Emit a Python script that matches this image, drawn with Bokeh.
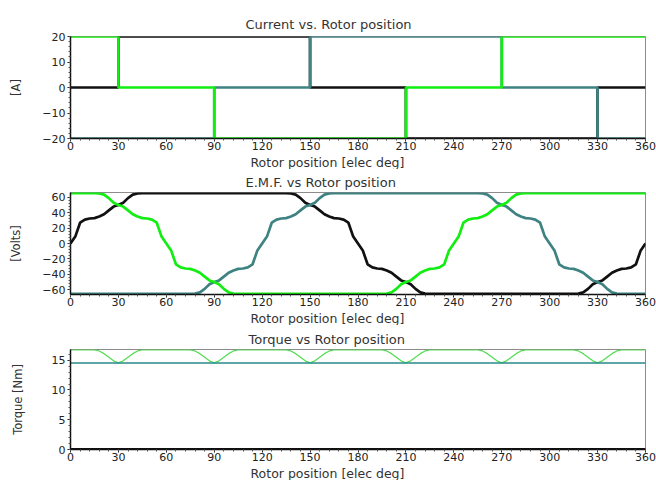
from bokeh.plotting import figure
from bokeh.layouts import column
from bokeh.models import Range1d, Title, FixedTicker
from bokeh.embed import file_html
from bokeh.resources import INLINE

# ---------------- data ----------------
angle_ticks = [0, 30, 60, 90, 120, 150, 180, 210, 240, 270, 300, 330, 360]

# phase currents (value held from each edge to the next)
cur_edges = [0, 30, 90, 150, 210, 270, 330, 360]
cur_black = [0, 20, 20, 0, -20, -20, 0, 0]
cur_green = [20, 0, -20, -20, 0, 20, 20, 20]
cur_teal = [-20, -20, 0, 20, 20, 0, -20, -20]

# back EMF sampled every 3 electrical degrees (0..360)
emf_theta = list(range(0, 361, 3))
emf_black = [
    0, 9, 27, 31, 32.5, 33, 35, 38, 43, 48,
    50, 53, 59, 63.5, 65, 65.5, 65.5, 65.5, 65.5, 65.5,
    65.5, 65.5, 65.5, 65.5, 65.5, 65.5, 65.5, 65.5, 65.5, 65.5,
    65.5, 65.5, 65.5, 65.5, 65.5, 65.5, 65.5, 65.5, 65.5, 65.5,
    65.5, 65.5, 65.5, 65.5, 65.5, 65.5, 65, 63.5, 59, 53,
    50, 48, 43, 38, 35, 33, 32.5, 31, 27, 9,
    0, -9, -27, -31, -32.5, -33, -35, -38, -43, -48,
    -50, -53, -59, -63.5, -65, -65.5, -65.5, -65.5, -65.5, -65.5,
    -65.5, -65.5, -65.5, -65.5, -65.5, -65.5, -65.5, -65.5, -65.5, -65.5,
    -65.5, -65.5, -65.5, -65.5, -65.5, -65.5, -65.5, -65.5, -65.5, -65.5,
    -65.5, -65.5, -65.5, -65.5, -65.5, -65.5, -65, -63.5, -59, -53,
    -50, -48, -43, -38, -35, -33, -32.5, -31, -27, -9,
    0,
]
emf_green = [
    65.5, 65.5, 65.5, 65.5, 65.5, 65.5, 65, 63.5, 59, 53,
    50, 48, 43, 38, 35, 33, 32.5, 31, 27, 9,
    0, -9, -27, -31, -32.5, -33, -35, -38, -43, -48,
    -50, -53, -59, -63.5, -65, -65.5, -65.5, -65.5, -65.5, -65.5,
    -65.5, -65.5, -65.5, -65.5, -65.5, -65.5, -65.5, -65.5, -65.5, -65.5,
    -65.5, -65.5, -65.5, -65.5, -65.5, -65.5, -65.5, -65.5, -65.5, -65.5,
    -65.5, -65.5, -65.5, -65.5, -65.5, -65.5, -65, -63.5, -59, -53,
    -50, -48, -43, -38, -35, -33, -32.5, -31, -27, -9,
    0, 9, 27, 31, 32.5, 33, 35, 38, 43, 48,
    50, 53, 59, 63.5, 65, 65.5, 65.5, 65.5, 65.5, 65.5,
    65.5, 65.5, 65.5, 65.5, 65.5, 65.5, 65.5, 65.5, 65.5, 65.5,
    65.5, 65.5, 65.5, 65.5, 65.5, 65.5, 65.5, 65.5, 65.5, 65.5,
    65.5,
]
emf_teal = [
    -65.5, -65.5, -65.5, -65.5, -65.5, -65.5, -65.5, -65.5, -65.5, -65.5,
    -65.5, -65.5, -65.5, -65.5, -65.5, -65.5, -65.5, -65.5, -65.5, -65.5,
    -65.5, -65.5, -65.5, -65.5, -65.5, -65.5, -65, -63.5, -59, -53,
    -50, -48, -43, -38, -35, -33, -32.5, -31, -27, -9,
    0, 9, 27, 31, 32.5, 33, 35, 38, 43, 48,
    50, 53, 59, 63.5, 65, 65.5, 65.5, 65.5, 65.5, 65.5,
    65.5, 65.5, 65.5, 65.5, 65.5, 65.5, 65.5, 65.5, 65.5, 65.5,
    65.5, 65.5, 65.5, 65.5, 65.5, 65.5, 65.5, 65.5, 65.5, 65.5,
    65.5, 65.5, 65.5, 65.5, 65.5, 65.5, 65, 63.5, 59, 53,
    50, 48, 43, 38, 35, 33, 32.5, 31, 27, 9,
    0, -9, -27, -31, -32.5, -33, -35, -38, -43, -48,
    -50, -53, -59, -63.5, -65, -65.5, -65.5, -65.5, -65.5, -65.5,
    -65.5,
]

# torque sampled every 3 electrical degrees (0..360)
torque_theta = list(range(0, 361, 3))
torque_total = [
    16.75, 16.75, 16.75, 16.75, 16.75, 16.75, 16.55, 16.1, 15.5, 14.9,
    14.55, 14.9, 15.5, 16.1, 16.55, 16.75, 16.75, 16.75, 16.75, 16.75,
    16.75, 16.75, 16.75, 16.75, 16.75, 16.75, 16.55, 16.1, 15.5, 14.9,
    14.55, 14.9, 15.5, 16.1, 16.55, 16.75, 16.75, 16.75, 16.75, 16.75,
    16.75, 16.75, 16.75, 16.75, 16.75, 16.75, 16.55, 16.1, 15.5, 14.9,
    14.55, 14.9, 15.5, 16.1, 16.55, 16.75, 16.75, 16.75, 16.75, 16.75,
    16.75, 16.75, 16.75, 16.75, 16.75, 16.75, 16.55, 16.1, 15.5, 14.9,
    14.55, 14.9, 15.5, 16.1, 16.55, 16.75, 16.75, 16.75, 16.75, 16.75,
    16.75, 16.75, 16.75, 16.75, 16.75, 16.75, 16.55, 16.1, 15.5, 14.9,
    14.55, 14.9, 15.5, 16.1, 16.55, 16.75, 16.75, 16.75, 16.75, 16.75,
    16.75, 16.75, 16.75, 16.75, 16.75, 16.75, 16.55, 16.1, 15.5, 14.9,
    14.55, 14.9, 15.5, 16.1, 16.55, 16.75, 16.75, 16.75, 16.75, 16.75,
    16.75,
]
torque_avg_theta = [0, 360]
torque_avg = [14.55, 14.55]
torque_cog_theta = [0, 360]
torque_cog = [0.1, 0.1]

# ---------------- styling ----------------
FONT = "DejaVu Sans"
GREEN = "#12ee12"
TEAL = "#3f8282"
BLACK = "#111111"


def make_fig(height, border_top, border_bottom, y_range, y_ticks, title, title_offset,
             title_standoff, ylabel, label_standoff):
    p = figure(width=656, height=height, output_backend="svg", toolbar_location=None,
               x_range=Range1d(0, 360), y_range=y_range,
               min_border_left=70, min_border_right=11,
               min_border_top=border_top, min_border_bottom=border_bottom)
    p.background_fill_color = "white"
    p.border_fill_color = "white"
    p.outline_line_color = "#8c8c8c"
    p.outline_line_width = 1
    p.xgrid.visible = False
    p.ygrid.visible = False
    p.title.text = title
    p.title.align = "left"
    p.title.offset = title_offset
    p.title.text_font = FONT
    p.title.text_font_size = "13px"
    p.title.text_font_style = "normal"
    p.title.text_color = "#333333"
    p.title.standoff = title_standoff

    p.xaxis.ticker = FixedTicker(ticks=angle_ticks,
                                 minor_ticks=list(range(0, 361, 6)))
    p.yaxis.ticker = FixedTicker(ticks=y_ticks[0], minor_ticks=y_ticks[1])
    for ax in (p.xaxis[0], p.yaxis[0]):
        ax.axis_line_color = BLACK
        ax.axis_line_width = 1.5
        ax.major_tick_line_color = BLACK
        ax.minor_tick_line_color = "#555555"
        ax.major_tick_in = 0
        ax.major_tick_out = 3
        ax.minor_tick_in = 0
        ax.minor_tick_out = 2
        ax.major_label_text_font = FONT
        ax.major_label_text_font_size = "11px"
        ax.major_label_text_color = "#222222"
    p.xaxis.major_label_standoff = 0
    p.yaxis.major_label_standoff = 2
    p.yaxis.axis_label = ylabel
    p.yaxis.axis_label_text_font = FONT
    p.yaxis.axis_label_text_font_size = "11.5px"
    p.yaxis.axis_label_text_font_style = "normal"
    p.yaxis.axis_label_text_color = "#333333"
    p.yaxis.axis_label_standoff = label_standoff

    p.add_layout(Title(text="Rotor position [elec deg]", align="left", offset=180,
                       text_font=FONT, text_font_size="12.5px", text_font_style="normal",
                       text_color="#333333", standoff=0), "below")
    return p


# ---- panel 1: current ----
p1 = make_fig(169, 36, 31, Range1d(-20, 20),
              ([-20, -10, 0, 10, 20], list(range(-20, 21, 2))),
              "Current vs. Rotor position", 175, 9, "[A]", 16)
p1.step(cur_edges, cur_black, mode="after", line_color=BLACK, line_width=2.7)
p1.step(cur_edges, cur_teal, mode="after", line_color=TEAL, line_width=2.7)
p1.step(cur_edges, cur_green, mode="after", line_color=GREEN, line_width=2.7)

# ---- panel 2: EMF ----
p2 = make_fig(156, 23, 31, Range1d(-66.3, 66.3),
              ([-60, -40, -20, 0, 20, 40, 60], list(range(-60, 61, 4))),
              "E.M.F. vs Rotor position", 175, 5, "[Volts]", 16)
p2.line(emf_theta, emf_black, line_color=BLACK, line_width=2.7)
p2.line(emf_theta, emf_teal, line_color=TEAL, line_width=2.7)
p2.line(emf_theta, emf_green, line_color=GREEN, line_width=2.7)

# ---- panel 3: torque ----
p3 = make_fig(155, 24, 31, Range1d(0, 16.8),
              ([0, 5, 10, 15], list(range(0, 17, 1))),
              "Torque vs Rotor position", 178, 6, "Torque [Nm]", 24)
p3.line(torque_cog_theta, torque_cog, line_color=BLACK, line_width=2)
p3.line(torque_theta, torque_total, line_color="#55dd55", line_width=1.3)
p3.line(torque_avg_theta, torque_avg, line_color="#2a8a8a", line_width=1.5)

layout = column(p1, p2, p3, spacing=0)

with open("out.html", "w") as f:
    f.write(file_html(layout, INLINE))
